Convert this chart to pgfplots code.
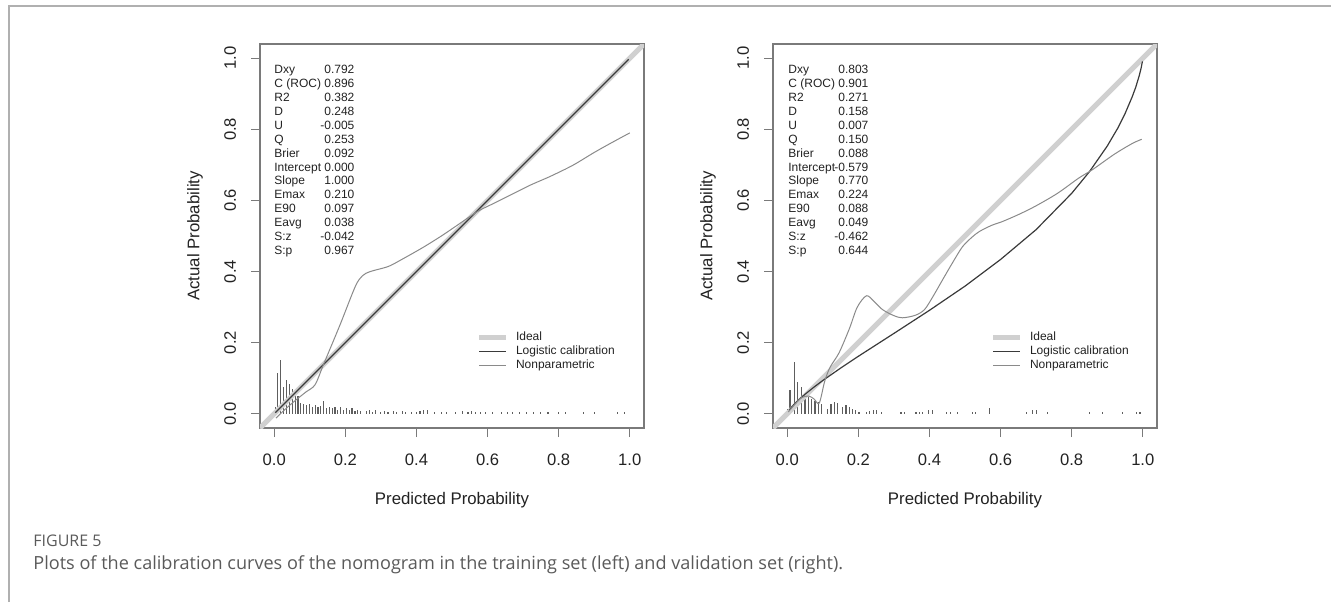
\documentclass[border=0pt]{standalone}
\usepackage{fontspec}
\setmainfont{Liberation Sans}
\newfontfamily\capfont{Open Sans}
\usepackage{pgfplots}
\pgfplotsset{compat=1.18}

\definecolor{axgray}{HTML}{7A7A7A}
\definecolor{txt}{HTML}{222222}
\definecolor{idealc}{HTML}{D0D0D0}
\definecolor{logc}{HTML}{3A3A3A}
\definecolor{npc}{HTML}{8A8A8A}
\definecolor{histc}{HTML}{5E5E5E}
\definecolor{capc}{HTML}{5A5A5A}
\definecolor{framec}{HTML}{B0B0B0}

\pgfplotsset{calib/.style={
  scale only axis, width=192pt, height=192pt,
  xmin=-0.04, xmax=1.04, ymin=-0.04, ymax=1.04,
  axis line style={axgray, line width=0.6pt},
  xtick={0,0.2,0.4,0.6,0.8,1}, ytick={0,0.2,0.4,0.6,0.8,1},
  xticklabels={0.0,0.2,0.4,0.6,0.8,1.0},
  yticklabels={0.0,0.2,0.4,0.6,0.8,1.0},
  xtick pos=bottom, ytick pos=left, tick align=outside,
  major tick length=4.5pt,
  tick style={axgray, line width=0.6pt},
  tick label style={font=\fontsize{8.3}{10}\selectfont, text=txt},
  xticklabel style={yshift=-5pt},
  yticklabel style={xshift=-4pt, rotate=90, anchor=south},
  xlabel={Predicted Probability}, ylabel={Actual Probability},
  every axis x label/.style={at={(axis description cs:0.5,-0.1875)}, anchor=center,
     font=\fontsize{8.4}{10}\selectfont, text=txt},
  every axis y label/.style={at={(axis description cs:-0.169,0.5)}, rotate=90, anchor=center,
     font=\fontsize{8.4}{10}\selectfont, text=txt},
  legend cell align=left,
  legend image code/.code={\draw[##1] (0pt,0pt) -- (13.5pt,0pt);},
  legend style={draw=none, fill=none, anchor=north west,
     font=\fontsize{6}{7}\selectfont,
     nodes={inner sep=0pt, text height=4.5pt, text depth=1.5pt, text=txt},
     row sep=1pt, column sep=3.5pt},
  ideal/.style={idealc, line width=2.6pt},
  logi/.style={logc, line width=0.6pt},
  nonp/.style={npc, line width=0.5pt, smooth, tension=0.5},
  hist/.style={ycomb, histc, line width=0.6pt, no markers, forget plot},
}}

\begin{document}
\begin{tikzpicture}
\path[use as bounding box] (0pt,0pt) rectangle (665.5pt,301pt);
\draw[framec, line width=0.6pt] (4.5pt,0pt) -- (4.5pt,298pt) -- (665.5pt,298pt);

% ---------- left panel: training set ----------
\begin{axis}[calib, at={(130pt,87pt)}, anchor=south west,
  legend style={at={(axis description cs:0.548,0.2637)}}]
\addplot[hist] coordinates {
(0.003,0.02) (0.009,0.115) (0.018,0.15) (0.027,0.075) (0.035,0.095) (0.043,0.085)
(0.051,0.07) (0.059,0.06) (0.067,0.05) (0.075,0.03) (0.083,0.028) (0.091,0.025)
(0.099,0.027) (0.107,0.02) (0.115,0.025) (0.123,0.02) (0.131,0.022) (0.139,0.035)
(0.147,0.015) (0.155,0.018) (0.163,0.015) (0.171,0.02) (0.179,0.012) (0.187,0.018)
(0.195,0.012) (0.203,0.015) (0.211,0.01) (0.219,0.015) (0.227,0.008) (0.235,0.012)
(0.243,0.008) (0.26,0.008) (0.268,0.012) (0.276,0.006) (0.284,0.01) (0.30,0.006)
(0.31,0.008) (0.32,0.005) (0.335,0.008) (0.345,0.005) (0.36,0.008) (0.37,0.005)
(0.385,0.006) (0.40,0.006) (0.41,0.008) (0.42,0.01) (0.43,0.012) (0.45,0.005)
(0.47,0.005) (0.485,0.005) (0.51,0.004) (0.53,0.008) (0.545,0.006) (0.555,0.008)
(0.565,0.005) (0.58,0.006) (0.595,0.005) (0.615,0.005) (0.64,0.005) (0.655,0.004)
(0.67,0.004) (0.69,0.004) (0.71,0.004) (0.73,0.004) (0.75,0.004) (0.77,0.004)
(0.80,0.004) (0.82,0.005) (0.87,0.004) (0.90,0.004) (0.966,0.004) (0.985,0.004)
};
\addplot[ideal] coordinates {(-0.04,-0.04) (1.04,1.04)};
\addlegendentry{Ideal}
\addplot[logi] coordinates {(0.003,0.003) (0.997,0.997)};
\addlegendentry{Logistic calibration}
\addplot[nonp] coordinates {
(0.005,-0.012) (0.03,0.012) (0.06,0.038) (0.09,0.062) (0.115,0.082) (0.14,0.142)
(0.185,0.25) (0.228,0.358) (0.248,0.388) (0.27,0.40) (0.32,0.414) (0.355,0.432)
(0.417,0.467) (0.47,0.50) (0.51,0.527) (0.572,0.569) (0.62,0.593) (0.67,0.618)
(0.72,0.643) (0.777,0.668) (0.84,0.699) (0.90,0.735) (0.95,0.763) (1.0,0.79)
};
\addlegendentry{Nonparametric}
\end{axis}

% ---------- right panel: validation set ----------
\begin{axis}[calib, at={(386.5pt,87pt)}, anchor=south west,
  legend style={at={(axis description cs:0.5506,0.2637)}}]
\addplot[hist] coordinates {
(0.001,0.014) (0.008,0.066) (0.02,0.146) (0.028,0.09) (0.04,0.076) (0.05,0.05)
(0.059,0.047) (0.068,0.042) (0.078,0.037) (0.087,0.033) (0.096,0.028) (0.113,0.014)
(0.123,0.028) (0.132,0.033) (0.141,0.03) (0.155,0.02) (0.165,0.024) (0.175,0.02)
(0.184,0.014) (0.193,0.01) (0.202,0.004) (0.222,0.005) (0.231,0.008) (0.243,0.012)
(0.25,0.01) (0.264,0.005) (0.32,0.004) (0.33,0.004) (0.362,0.004) (0.372,0.004)
(0.38,0.004) (0.398,0.01) (0.408,0.01) (0.447,0.004) (0.46,0.004) (0.479,0.004)
(0.52,0.004) (0.53,0.004) (0.569,0.015) (0.672,0.004) (0.69,0.01) (0.70,0.012)
(0.732,0.004) (0.851,0.004) (0.887,0.004) (0.944,0.004) (0.982,0.004) (0.992,0.004)
};
\addplot[ideal] coordinates {(-0.04,-0.04) (1.04,1.04)};
\addlegendentry{Ideal}
\addplot[logi] coordinates {
(0.005,0.0094) (0.01,0.016) (0.02,0.0272) (0.035,0.0418) (0.05,0.0549) (0.075,0.0749)
(0.1,0.0936) (0.15,0.1284) (0.2,0.1617) (0.25,0.1939) (0.3,0.226) (0.4,0.291)
(0.5,0.359) (0.6,0.434) (0.7,0.518) (0.8,0.620) (0.85,0.681) (0.9,0.753)
(0.93,0.804) (0.95,0.844) (0.97,0.891) (0.98,0.918) (0.99,0.951) (0.995,0.971) (0.999,0.991)
};
\addlegendentry{Logistic calibration}
\addplot[nonp] coordinates {
(0.003,0.005) (0.02,0.025) (0.04,0.045) (0.06,0.05) (0.075,0.042) (0.09,0.03)
(0.105,0.09) (0.12,0.13) (0.146,0.172) (0.175,0.24) (0.197,0.30) (0.223,0.332)
(0.245,0.315) (0.268,0.293) (0.3,0.276) (0.324,0.27) (0.36,0.277) (0.386,0.293)
(0.41,0.33) (0.437,0.377) (0.465,0.425) (0.493,0.47) (0.52,0.497) (0.541,0.513)
(0.575,0.53) (0.606,0.541) (0.654,0.562) (0.70,0.585) (0.76,0.62) (0.82,0.663)
(0.859,0.687) (0.92,0.73) (0.97,0.76) (0.997,0.772)
};
\addlegendentry{Nonparametric}
\end{axis}

% ---------- statistics ----------
\newcommand\st[2]{\hbox to 40pt{\rlap{#1}\hfil #2}}
\node[anchor=north west, inner sep=0pt, align=left, text=txt,
      font=\fontsize{6}{6.95}\selectfont] at (137pt,268.5pt) {%
\st{Dxy}{0.792}\\ \st{C (ROC)}{0.896}\\ \st{R2}{0.382}\\ \st{D}{0.248}\\
\st{U}{-0.005}\\ \st{Q}{0.253}\\ \st{Brier}{0.092}\\ \st{Intercept}{0.000}\\
\st{Slope}{1.000}\\ \st{Emax}{0.210}\\ \st{E90}{0.097}\\ \st{Eavg}{0.038}\\
\st{S:z}{-0.042}\\ \st{S:p}{0.967}};
\node[anchor=north west, inner sep=0pt, align=left, text=txt,
      font=\fontsize{6}{6.95}\selectfont] at (394pt,268.5pt) {%
\st{Dxy}{0.803}\\ \st{C (ROC)}{0.901}\\ \st{R2}{0.271}\\ \st{D}{0.158}\\
\st{U}{0.007}\\ \st{Q}{0.150}\\ \st{Brier}{0.088}\\ \st{Intercept}{-0.579}\\
\st{Slope}{0.770}\\ \st{Emax}{0.224}\\ \st{E90}{0.088}\\ \st{Eavg}{0.049}\\
\st{S:z}{-0.462}\\ \st{S:p}{0.644}};

% ---------- caption ----------
\node[anchor=west, inner sep=0pt, text=capc, font=\capfont\fontsize{8}{9}\selectfont]
  at (16.5pt,30.5pt) {FIGURE 5};
\node[anchor=west, inner sep=0pt, text=capc, font=\capfont\fontsize{9.05}{10.5}\selectfont]
  at (16.5pt,18.5pt) {Plots of the calibration curves of the nomogram in the training set (left) and validation set (right).};
\end{tikzpicture}
\end{document}
